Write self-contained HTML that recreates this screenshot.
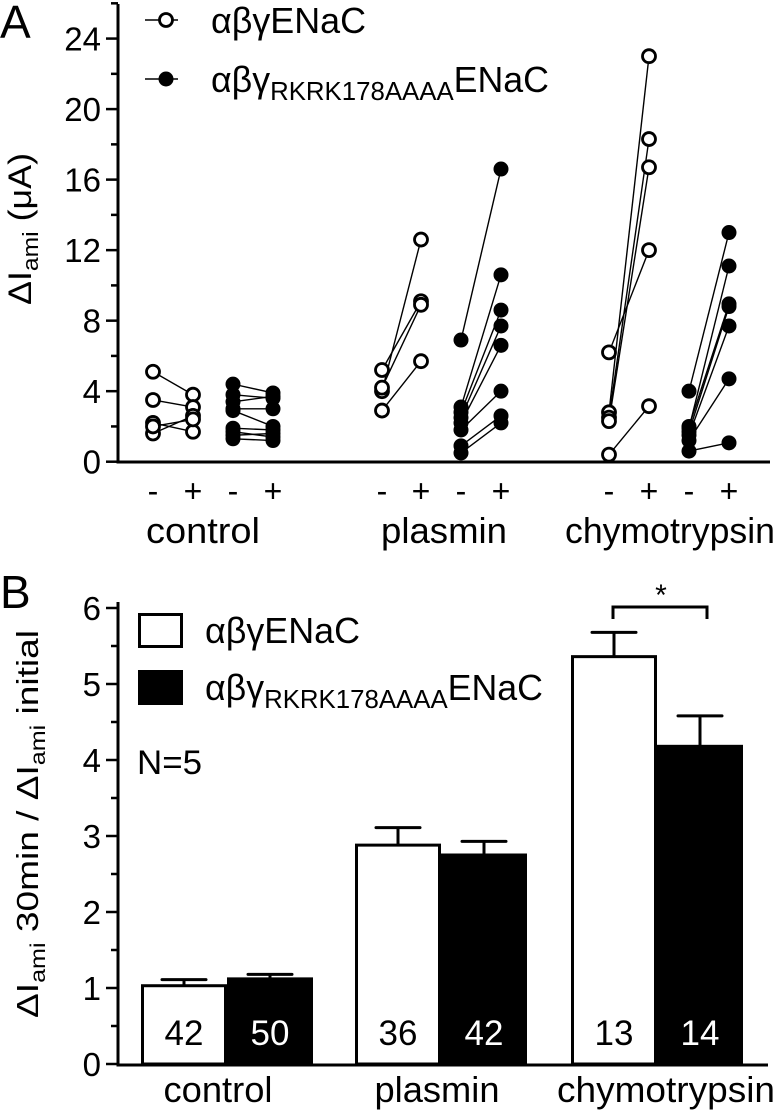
<!DOCTYPE html>
<html><head><meta charset="utf-8"><style>
html,body{margin:0;padding:0;background:#fff;}
svg{display:block;font-family:"Liberation Sans",Arial,sans-serif;}
</style></head><body>
<svg id="fig" width="777" height="1110" viewBox="0 0 777 1110" xmlns="http://www.w3.org/2000/svg">
<text x="0" y="38" font-size="46">A</text>
<text x="0" y="608" font-size="46">B</text>
<g id="pa"></g>
<g id="pb"></g>
</svg>
<script>
// ---- Panel A data ----
const aGroups = ["control","plasmin","chymotrypsin"];
const aTicks = [0,4,8,12,16,20,24];
const aCtrlOpen = [[5.1,3.8],[3.5,3.1],[2.2,1.7],[1.6,2.6],[2.0,2.4]];
const aCtrlFilled = [[4.4,3.9],[3.8,3.6],[3.4,3.7],[3.0,3.0],[2.9,2.0],[1.9,1.8],[1.7,1.4],[1.5,1.6],[1.3,1.2]];
const aPlasOpen = [[4.0,12.6],[5.2,9.1],[4.2,8.9],[2.9,5.7]];
const aPlasFilled = [[6.9,16.6],[3.1,10.6],[2.8,8.6],[2.5,7.7],[2.2,6.6],[1.8,4.0],[0.9,2.6],[0.5,2.2]];
const aChyOpen = [[2.8,23.0],[2.5,18.3],[2.3,16.7],[6.2,12.0],[0.4,3.15]];
const aChyFilled = [[4.0,13.0],[1.9,11.1],[2.0,8.95],[1.7,8.8],[1.5,7.7],[1.2,4.7],[0.6,1.07]];
// ---- Panel B data ----
const bCats = ["control","plasmin","chymotrypsin"];
const bWt = [1.03,2.88,5.36];
const bWtErr = [0.08,0.23,0.32];
const bMut = [1.12,2.75,4.18];
const bMutErr = [0.06,0.18,0.40];
const bNWt = ["42","36","13"];
const bNMut = ["50","42","14"];
const bTicks = [0,1,2,3,4,5,6];

const NS="http://www.w3.org/2000/svg";
function mk(parent,tag,attrs,text){const e=document.createElementNS(NS,tag);for(const k in attrs)e.setAttribute(k,attrs[k]);if(text!==undefined)e.textContent=text;parent.appendChild(e);return e;}

// Panel A
const pa=document.getElementById('pa');
const ya=v=>461.7-v*17.63;
const axA=mk(pa,'path',{d:'M118,4 L118,462 L770,462',fill:'none',stroke:'#000','stroke-width':3});


for(let v=0;v<=26;v+=2){
  const t=mk(pa,'line',{x1:v%4===0?106:111,x2:118,y1:ya(v),y2:ya(v),stroke:'#000','stroke-width':2.5});
  
  
}
aTicks.forEach(v=>{
  const t=mk(pa,'text',{x:101,y:ya(v)+12,'font-size':33,'text-anchor':'end'},String(v));
  
  
});
const yt=mk(pa,'text',{transform:'translate(31,229) rotate(-90)','font-size':32,'text-anchor':'middle',textLength:152,lengthAdjust:'spacingAndGlyphs'});


yt.innerHTML='ΔI<tspan font-size="22" dy="7">ami</tspan><tspan dy="-7"> (μA)</tspan>';
const series=[
 {d:aCtrlOpen,x:[153,193],f:false},{d:aCtrlFilled,x:[233,273],f:true},
 {d:aPlasOpen,x:[382,421],f:false},{d:aPlasFilled,x:[461,501],f:true},
 {d:aChyOpen,x:[609,649],f:false},{d:aChyFilled,x:[689,729],f:true}];
series.forEach(s=>{
  s.d.forEach(p=>{
    const l=mk(pa,'line',{x1:s.x[0],y1:ya(p[0]),x2:s.x[1],y2:ya(p[1]),stroke:'#000','stroke-width':1.4});
    
    
  });
  s.d.forEach(p=>{
    [0,1].forEach(i=>{
      const c=mk(pa,'circle',{cx:s.x[i],cy:ya(p[i]),r:s.f?7.5:6.5,fill:s.f?'#000':'#fff',stroke:'#000','stroke-width':s.f?0:2.8});
      
      
    });
  });
  ['-','+'].forEach((sg,i)=>{
    const t=mk(pa,'text',{x:s.x[i],y:502,'font-size':32,'text-anchor':'middle'},sg);
    
    
  });
});
[[203,114],[444,126],[670,210]].forEach((g,i)=>{
  const t=mk(pa,'text',{x:g[0],y:543,'font-size':36,'text-anchor':'middle',textLength:g[1],lengthAdjust:'spacingAndGlyphs'},aGroups[i]);
  
  
});
// legend A
[[20,false,'αβγENaC',155],[79,true,null,338]].forEach(L=>{
  const l=mk(pa,'line',{x1:145,x2:178,y1:L[0],y2:L[0],stroke:'#000','stroke-width':1.5});
  
  
  const c=mk(pa,'circle',{cx:166,cy:L[0],r:L[1]?7.5:6.5,fill:L[1]?'#000':'#fff',stroke:'#000','stroke-width':L[1]?0:2.8});
  
  
  const t=mk(pa,'text',{x:211,y:L[0]+13,'font-size':36,textLength:L[3],lengthAdjust:'spacingAndGlyphs'});
  
  
  if(L[2]) t.textContent=L[2]; else t.innerHTML='αβγ<tspan font-size="26" dy="8">RKRK178AAAA</tspan><tspan dy="-8">ENaC</tspan>';
});

// Panel B
const pb=document.getElementById('pb');
const yb=v=>1064-v*76;
const axB=mk(pb,'path',{d:'M118,602 L118,1065 L768,1065',fill:'none',stroke:'#000','stroke-width':3});


for(let v=0;v<=6;v+=0.5){
  const t=mk(pb,'line',{x1:Number.isInteger(v)?106:111,x2:118,y1:yb(v),y2:yb(v),stroke:'#000','stroke-width':2.5});
  
  
}
bTicks.forEach(v=>{
  const t=mk(pb,'text',{x:101,y:yb(v)+12,'font-size':33,'text-anchor':'end'},String(v));
  
  
});
const ytb=mk(pb,'text',{transform:'translate(38,824) rotate(-90)','font-size':31,'text-anchor':'middle',textLength:388,lengthAdjust:'spacingAndGlyphs'});


ytb.innerHTML='ΔI<tspan font-size="21" dy="7">ami</tspan><tspan dy="-7"> 30min / ΔI</tspan><tspan font-size="21" dy="7">ami</tspan><tspan dy="-7"> initial</tspan>';
const bx=[141,355,571], bw=86;
const catLen=[109,125,218];
const catX=[218,437,666];
bCats.forEach((c,i)=>{
  const x0=bx[i];
  [[bWt,bWtErr,bNWt,false,0],[bMut,bMutErr,bNMut,true,bw]].forEach(S=>{
    const xx=x0+S[4], v=S[0][i], e=S[1][i], cx=xx+bw/2;
    const el=mk(pb,'line',{x1:cx,x2:cx,y1:yb(v),y2:yb(v+e),stroke:'#000','stroke-width':3});
    
    
    const cap=mk(pb,'line',{x1:cx-22,x2:cx+22,y1:yb(v+e),y2:yb(v+e),stroke:'#000','stroke-width':3,'stroke-linecap':'round'});
    
    
    const r=mk(pb,'rect',{x:xx+1.5,y:yb(v),width:bw-3,height:yb(0)-yb(v),fill:S[3]?'#000':'#fff',stroke:'#000','stroke-width':3});
    
    
    const t=mk(pb,'text',{x:cx,y:1045,'font-size':35,'text-anchor':'middle',fill:S[3]?'#fff':'#000'},S[2][i]);
    
    
  });
  const t=mk(pb,'text',{x:catX[i],y:1102,'font-size':36,'text-anchor':'middle',textLength:catLen[i],lengthAdjust:'spacingAndGlyphs'},c);
  
  
});
const br=mk(pb,'path',{d:'M613,619 L613,607 L707,607 L707,619',fill:'none',stroke:'#000','stroke-width':3});


const st=mk(pb,'text',{x:661,y:605,'font-size':30,'text-anchor':'middle'},'*');


[[613,false,'αβγENaC',155],[670,true,null,338]].forEach(L=>{
  const r=mk(pb,'rect',{x:139.5,y:L[0]+1.5,width:42,height:32,fill:L[1]?'#000':'#fff',stroke:'#000','stroke-width':3});
  
  
  const t=mk(pb,'text',{x:205,y:L[0]+30,'font-size':36,textLength:L[3],lengthAdjust:'spacingAndGlyphs'});
  
  
  if(L[2]) t.textContent=L[2]; else t.innerHTML='αβγ<tspan font-size="26" dy="8">RKRK178AAAA</tspan><tspan dy="-8">ENaC</tspan>';
});
const nt=mk(pb,'text',{x:137,y:774,'font-size':34,textLength:65,lengthAdjust:'spacingAndGlyphs'},'N=5');


</script>
</body></html>
